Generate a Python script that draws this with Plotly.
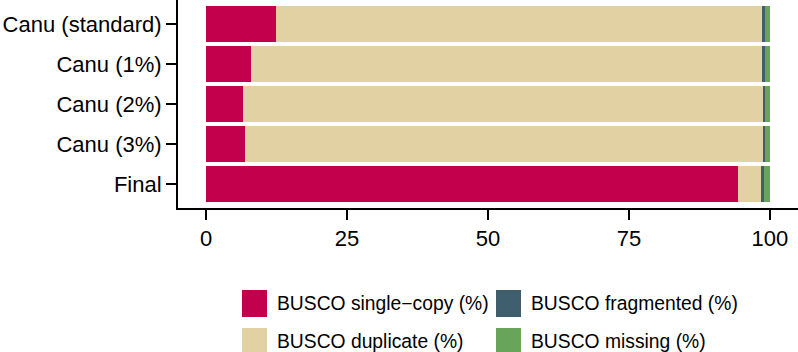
import plotly.graph_objects as go

categories = ["Canu (standard)", "Canu (1%)", "Canu (2%)", "Canu (3%)", "Final"]
single_copy = [12.3, 8.0, 6.6, 6.8, 94.3]
duplicate = [86.4, 90.7, 92.2, 92.0, 4.1]
fragmented = [0.4, 0.4, 0.3, 0.3, 0.6]
missing = [0.9, 0.9, 0.9, 0.9, 1.0]
x_ticks = [0, 25, 50, 75, 100]

series_names = ["BUSCO single\u2212copy (%)", "BUSCO duplicate (%)",
                "BUSCO fragmented (%)", "BUSCO missing (%)"]
series_values = [single_copy, duplicate, fragmented, missing]
colors = ["#C3004C", "#E2D1A2", "#3F5F6E", "#68A45A"]

FONT = "Liberation Sans, Arial, sans-serif"

fig = go.Figure()
for name, vals, col in zip(series_names, series_values, colors):
    fig.add_trace(go.Bar(
        y=categories, x=vals, orientation="h", name=name,
        marker=dict(color=col, line=dict(width=0)), showlegend=False,
    ))

W, H = 798, 352
L, R, T, B = 178, 0, 0, 144
pw, ph = W - L - R, H - T - B

def px2paper(px, py):
    return (px - L) / pw, (H - B - py) / ph

# manual legend (2 columns, column-major like the reference)
legend_pos = [(242, 290), (242, 328), (496, 290), (496, 328)]
shapes = []
annotations = []
for (sx, sy), name, col in zip(legend_pos, series_names, colors):
    x0, y1 = px2paper(sx, sy)
    x1, y0 = px2paper(sx + 25, sy + 27)
    shapes.append(dict(type="rect", xref="paper", yref="paper",
                       x0=x0, x1=x1, y0=y0, y1=y1,
                       fillcolor=col, line=dict(width=0)))
    tx, ty = px2paper(sx + 33, sy + 13.5)
    annotations.append(dict(xref="paper", yref="paper", x=tx, y=ty,
                            xanchor="left", yanchor="middle", showarrow=False,
                            text=name, font=dict(family=FONT, size=19.3, color="black")))

fig.update_layout(
    width=W, height=H,
    margin=dict(l=L, r=R, t=T, b=B, pad=0),
    barmode="stack", bargap=0.1,
    plot_bgcolor="white", paper_bgcolor="white",
    font=dict(family=FONT, size=22, color="black"),
    shapes=shapes, annotations=annotations,
    xaxis=dict(range=[-5, 105], tickvals=x_ticks, ticktext=[str(v) for v in x_ticks],
               showgrid=False, zeroline=False, showline=True, linecolor="black",
               linewidth=2, ticks="outside", ticklen=10, tickwidth=1.5,
               tickcolor="black", tickfont=dict(size=22)),
    yaxis=dict(categoryorder="array", categoryarray=categories,
               range=[4.6, -0.6], showgrid=False, zeroline=False, showline=True,
               linecolor="black", linewidth=2, ticks="outside", ticklen=10,
               tickwidth=1.5, tickcolor="black", tickfont=dict(size=22)),
)

fig.write_html("out.html")
